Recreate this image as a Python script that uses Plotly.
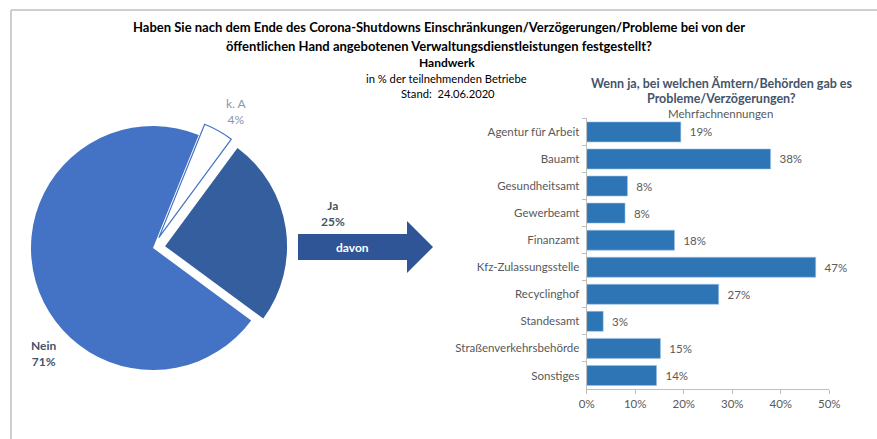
import plotly.graph_objects as go

W, H = 877, 439

# ---- data ----
pie_labels = ["k. A", "Ja", "Nein"]
pie_values = [4, 25, 71]

bar_categories = ["Agentur für Arbeit", "Bauamt", "Gesundheitsamt", "Gewerbeamt", "Finanzamt",
                  "Kfz-Zulassungsstelle", "Recyclinghof", "Standesamt",
                  "Straßenverkehrsbehörde", "Sonstiges"]
bar_values = [19.4, 37.9, 8.4, 7.9, 18.1, 47.2, 27.2, 3.4, 15.2, 14.4]
x_ticks = [0, 10, 20, 30, 40, 50]
x_ticklabels = ["0%", "10%", "20%", "30%", "40%", "50%"]

FONT = "Lato"

def px(x):
    return x / W

def py(y):
    return 1 - y / H

fig = go.Figure()

# pie
fig.add_trace(go.Pie(
    labels=pie_labels, values=pie_values, sort=False, direction="clockwise",
    rotation=22, pull=[0.1, 0.1, 0.0],
    marker=dict(colors=["#FFFFFF", "#355E9E", "#4472C4"],
                line=dict(color=["#4472C4", "#FFFFFF", "#FFFFFF"], width=[1.2, 0, 0])),
    textinfo="none", hoverinfo="label+percent", showlegend=False,
    domain=dict(x=[px(18.8), px(287.2)], y=[py(382.2), py(113.8)]),
))

# bars
fig.add_trace(go.Bar(
    y=bar_categories, x=bar_values, orientation="h",
    marker=dict(color="#2E75B6", line=dict(color="#9DC3E6", width=0.6)),
    texttemplate="  %{x:.0f}%", textposition="outside", cliponaxis=False,
    textfont=dict(family=FONT, size=11.5, color="#595959"),
    showlegend=False, width=0.74,
))

fig.update_layout(
    width=W, height=H, margin=dict(l=0, r=0, t=0, b=0, autoexpand=False),
    showlegend=False,
    paper_bgcolor="white", plot_bgcolor="white",
    font=dict(family=FONT, size=11, color="#595959"),
    xaxis=dict(domain=[px(586.7), px(829.3)], range=[0, 50], tickvals=x_ticks,
               ticktext=x_ticklabels, showgrid=False, zeroline=False, automargin=False,
               showline=True, linecolor="#BFBFBF", linewidth=1,
               ticks="outside", ticklen=4, tickcolor="#BFBFBF",
               tickfont=dict(family=FONT, size=11.5, color="#595959")),
    yaxis=dict(domain=[py(389), py(118.4)], autorange="reversed", automargin=False,
               showgrid=False, zeroline=False, showline=True, linecolor="#BFBFBF",
               linewidth=1, ticks="outside", ticklen=4, tickcolor="#BFBFBF",
               tickson="boundaries", ticklabelstandoff=4,
               tickfont=dict(family=FONT, size=11.5, color="#595959")),
)

# frame lines
fig.add_shape(type="line", xref="paper", yref="paper", x0=px(11), x1=px(877), y0=py(10), y1=py(10),
              line=dict(color="#BFBFBF", width=1.5))
fig.add_shape(type="line", xref="paper", yref="paper", x0=px(11), x1=px(11), y0=py(10), y1=py(439),
              line=dict(color="#BFBFBF", width=1.5))

# arrow
pts = [(298, 234), (407, 234), (407, 221), (433, 247), (407, 273), (407, 260), (298, 260)]
path = "M " + " L ".join(f"{px(x)},{py(y)}" for x, y in pts) + " Z"
fig.add_shape(type="path", xref="paper", yref="paper", path=path,
              fillcolor="#2F5597", line=dict(color="#2F5597", width=0))

def ann(x, y, text, size=11, color="#595959", bold=False, xanchor="center"):
    if bold:
        text = f"<b>{text}</b>"
    fig.add_annotation(x=px(x), y=py(y), xref="paper", yref="paper", text=text,
                       showarrow=False, xanchor=xanchor, yanchor="middle",
                       font=dict(family=FONT, size=size, color=color))

ann(439, 27, "Haben Sie nach dem Ende des Corona-Shutdowns Einschränkungen/Verzögerungen/Probleme bei von der",
    size=13, color="#000000", bold=True)
ann(439, 46, "öffentlichen Hand angebotenen Verwaltungsdienstleistungen festgestellt?",
    size=13, color="#000000", bold=True)
ann(447, 63, "Handwerk", size=12, color="#000000", bold=True)
ann(447, 78, "in % der teilnehmenden Betriebe", size=11.2, color="#000000")
ann(448, 93, "Stand:  24.06.2020", size=11.2, color="#000000")
ann(722, 83, "Wenn ja, bei welchen Ämtern/Behörden gab es", size=12.5, color="#44546A", bold=True)
ann(721, 98, "Probleme/Verzögerungen?", size=12.5, color="#44546A", bold=True)
ann(720, 113, "Mehrfachnennungen", size=11.5, color="#595959")

# pie labels
ann(236, 111, f"{pie_labels[0]}<br>{pie_values[0]}%", size=12, color="#8497B0")
ann(333, 213, f"{pie_labels[1]}<br>{pie_values[1]}%", size=12, color="#44546A", bold=True)
ann(44, 353, f"{pie_labels[2]}<br>{pie_values[2]}%", size=12, color="#44546A", bold=True)

# arrow text
ann(352, 247, "davon", size=12, color="#FFFFFF", bold=True)

fig.write_html("out.html", config={"displayModeBar": False},
               post_script="document.body.style.margin='0';")
